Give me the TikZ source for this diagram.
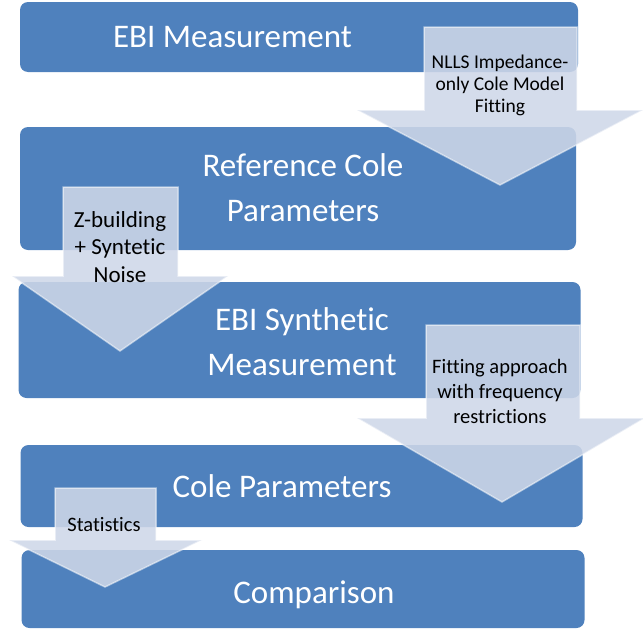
\documentclass[tikz,border=0pt]{standalone}
\usepackage{fontspec}
\setmainfont{Carlito}[Ligatures=NoCommon]
\definecolor{stageblue}{RGB}{79,129,189}
\definecolor{arrowfill}{RGB}{206,215,232}

\begin{document}
\begin{tikzpicture}[x=1pt, y=-1pt,
        stage/.style={fill=stageblue, rounded corners=8pt, inner sep=0pt},
        stagetext/.style={text=white, align=center, anchor=base, inner sep=0pt, font=\fontsize{33}{45}\selectfont},
        flowarrow/.style={fill=arrowfill, fill opacity=0.88, draw=white, draw opacity=0.5, line width=1.5pt},
        arrowtext/.style={text=black, align=center, anchor=base, inner sep=0pt}]
            \useasboundingbox (0,0) rectangle (643,632);
            % the five stages
            \node[stage, minimum width=558, minimum height=70] (ebi) at (299,37) {};
            \node[stage, minimum width=556, minimum height=123] (refcole) at (298,188.5) {};
            \node[stage, minimum width=562, minimum height=116] (synth) at (299.5,340) {};
            \node[stage, minimum width=562, minimum height=82] (cole) at (301.5,486) {};
            \node[stage, minimum width=563, minimum height=78] (comp) at (303,589) {};
            % base anchor = baseline of the last line
            \node[stagetext] (ebitext) at (232.5,47) {EBI Measurement};
            \node[stagetext] (refcoletext) at (303,221.7) {Reference Cole\\Parameters};
            \node[stagetext] (synthtext) at (302,375) {EBI Synthetic\\Measurement};
            \node[stagetext] (coletext) at (282,497) {Cole Parameters};
            \node[stagetext] (comptext) at (314,603) {Comparison};
            % block arrows between the stages
            \filldraw[flowarrow] (424,27) -- (577,27) -- (577,110) -- (643,110) -- (500,185) -- (357,110) -- (424,110) -- cycle;
            \filldraw[flowarrow] (63,187) -- (178,187) -- (178,276) -- (228,276) -- (120,351) -- (12,276) -- (63,276) -- cycle;
            \filldraw[flowarrow] (426,325) -- (580,325) -- (580,418) -- (645,418) -- (502,502) -- (357,418) -- (426,418) -- cycle;
            \filldraw[flowarrow] (55,488) -- (156,488) -- (156,540) -- (202,540) -- (105,587) -- (9,540) -- (55,540) -- cycle;
            \node[arrowtext, font=\fontsize{19.5}{22.3}\selectfont] (nlls) at (500,112.7) {NLLS Impedance-\\only Cole Model\\Fitting};
            \node[arrowtext, font=\fontsize{23}{27.5}\selectfont] (zbuild) at (120,282) {Z-building\\+ Syntetic\\Noise};
            \node[arrowtext, font=\fontsize{20.5}{25}\selectfont] (fitting) at (500,423) {Fitting approach\\with frequency\\restrictions};
            \node[arrowtext, font=\fontsize{20.5}{25}\selectfont] (stats) at (104,531.5) {Statistics};
        \end{tikzpicture}
\end{document}
